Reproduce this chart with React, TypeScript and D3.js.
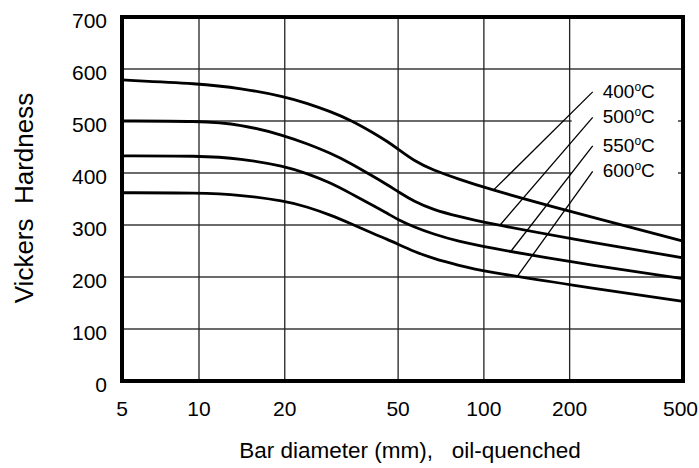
import { useEffect, useRef } from 'react';
import * as d3 from 'd3';

// bar diameter (mm) and Vickers hardness per tempering temperature
const diameters = [5, 10, 14, 20, 24, 29, 34, 41, 46, 50, 57, 66, 82, 100, 200, 500];
const hv400 = [579, 572, 563, 547, 534, 518, 502, 477, 460, 446, 423, 406, 388, 372, 326, 269];
const hv500 = [500, 500, 494, 472, 456, 438, 419, 393, 377, 364, 345, 330, 316, 305, 274, 237];
const hv550 = [433, 433, 428, 413, 399, 381, 361, 337, 322, 310, 296, 283, 268, 258, 229, 197];
const hv600 = [362, 362, 358, 346, 335, 319, 303, 283, 272, 263, 249, 236, 222, 211, 185, 153];

const temperatures = ['400', '500', '550', '600'];
// leader lines: point on the curve -> label anchor
const leaderCurveD = [108, 114, 125, 131];
const leaderCurveHv = [367, 300, 251, 201];
const leaderLabelD = 241;
const leaderLabelHv = [556, 507, 452, 403];

const xTicks = [5, 10, 20, 50, 100, 200, 500];
const xGrid = [10, 20, 50, 100, 200];
const yTicks = [0, 100, 200, 300, 400, 500, 600, 700];

const WIDTH = 699;
const HEIGHT = 468;
const FONT = "'Liberation Sans', Arial, Helvetica, sans-serif";

export default function App() {
  const svgRef = useRef<SVGSVGElement>(null);

  useEffect(() => {
    if (!svgRef.current) return;
    const svg = d3.select(svgRef.current);
    svg.selectAll('*').remove();

    const plot = { left: 122, right: 683, top: 17, bottom: 381 };

    // the original axis is drawn slightly wider between 5 and 10
    const x = d3
      .scaleLog()
      .domain([5, 10, 500])
      .range([plot.left, 199, plot.right]);
    const y = d3.scaleLinear().domain([0, 700]).range([plot.bottom, plot.top]);

    const grid = svg.append('g');
    grid
      .selectAll('line.h')
      .data(yTicks.filter((v) => v > 0 && v < 700))
      .join('line')
      .attr('x1', plot.left)
      .attr('x2', plot.right)
      .attr('y1', (v) => y(v))
      .attr('y2', (v) => y(v))
      .attr('stroke', '#3a3a3a')
      .attr('stroke-width', 1.3);
    grid
      .selectAll('line.v')
      .data(xGrid)
      .join('line')
      .attr('x1', (d) => x(d))
      .attr('x2', (d) => x(d))
      .attr('y1', plot.top)
      .attr('y2', plot.bottom)
      .attr('stroke', '#222')
      .attr('stroke-width', 1.3);

    // white box behind the temperature labels
    const boxLeft = x(leaderLabelD) - 21;
    const boxTop = y(leaderLabelHv[0]) - 17;
    const boxBottom = y(leaderLabelHv[leaderLabelHv.length - 1]) + 18;
    svg
      .append('rect')
      .attr('x', boxLeft)
      .attr('y', boxTop)
      .attr('width', plot.right - 5 - boxLeft)
      .attr('height', boxBottom - boxTop)
      .attr('fill', '#fff');

    const line = d3
      .line<number>()
      .x((_, i) => x(diameters[i]))
      .y((v) => y(v))
      .curve(d3.curveBasis);

    svg
      .append('g')
      .selectAll('path')
      .data([hv400, hv500, hv550, hv600])
      .join('path')
      .attr('d', (series) => line(series))
      .attr('fill', 'none')
      .attr('stroke', '#000')
      .attr('stroke-width', 2.8)
      .attr('stroke-linejoin', 'round');

    const labels = svg.append('g');
    labels
      .selectAll('line')
      .data(temperatures)
      .join('line')
      .attr('x1', (_, i) => x(leaderCurveD[i]))
      .attr('y1', (_, i) => y(leaderCurveHv[i]))
      .attr('x2', x(leaderLabelD))
      .attr('y2', (_, i) => y(leaderLabelHv[i]))
      .attr('stroke', '#000')
      .attr('stroke-width', 1.3);

    const labelText = labels
      .selectAll('text')
      .data(temperatures)
      .join('text')
      .attr('x', x(leaderLabelD) + 10)
      .attr('y', (_, i) => y(leaderLabelHv[i]) + 6)
      .attr('font-family', FONT)
      .attr('font-size', 19)
      .attr('fill', '#000');
    labelText.append('tspan').text((t) => t);
    labelText.append('tspan').attr('font-size', 12).attr('dy', -7).text('o');
    labelText.append('tspan').attr('dy', 7).text('C');

    // frame
    svg
      .append('rect')
      .attr('x', plot.left)
      .attr('y', plot.top)
      .attr('width', plot.right - plot.left)
      .attr('height', plot.bottom - plot.top)
      .attr('fill', 'none')
      .attr('stroke', '#000')
      .attr('stroke-width', 4);

    svg
      .append('g')
      .selectAll('text')
      .data(yTicks)
      .join('text')
      .attr('x', 107)
      .attr('y', (v) => y(v) + 11)
      .attr('text-anchor', 'end')
      .attr('font-family', FONT)
      .attr('font-size', 21)
      .text((v) => String(v));

    const lastTick = xTicks[xTicks.length - 1];
    svg
      .append('g')
      .selectAll('text')
      .data(xTicks)
      .join('text')
      .attr('x', (d) => (d === lastTick ? WIDTH - 1 : x(d)))
      .attr('y', 416)
      .attr('text-anchor', (d) => (d === lastTick ? 'end' : 'middle'))
      .attr('font-family', FONT)
      .attr('font-size', 21)
      .text((d) => String(d));

    svg
      .append('text')
      .attr('x', 410)
      .attr('y', 458)
      .attr('text-anchor', 'middle')
      .attr('font-family', FONT)
      .attr('font-size', 22.5)
      .style('white-space', 'pre')
      .text('Bar diameter (mm),   oil-quenched');

    svg
      .append('text')
      .attr('transform', `translate(33,198) rotate(-90)`)
      .attr('text-anchor', 'middle')
      .attr('font-family', FONT)
      .attr('font-size', 26)
      .style('white-space', 'pre')
      .text('Vickers  Hardness');
  }, []);

  return (
    <svg
      ref={svgRef}
      width={WIDTH}
      height={HEIGHT}
      viewBox={`0 0 ${WIDTH} ${HEIGHT}`}
      style={{ position: 'absolute', left: 0, top: 0, background: '#fff' }}
    />
  );
}
